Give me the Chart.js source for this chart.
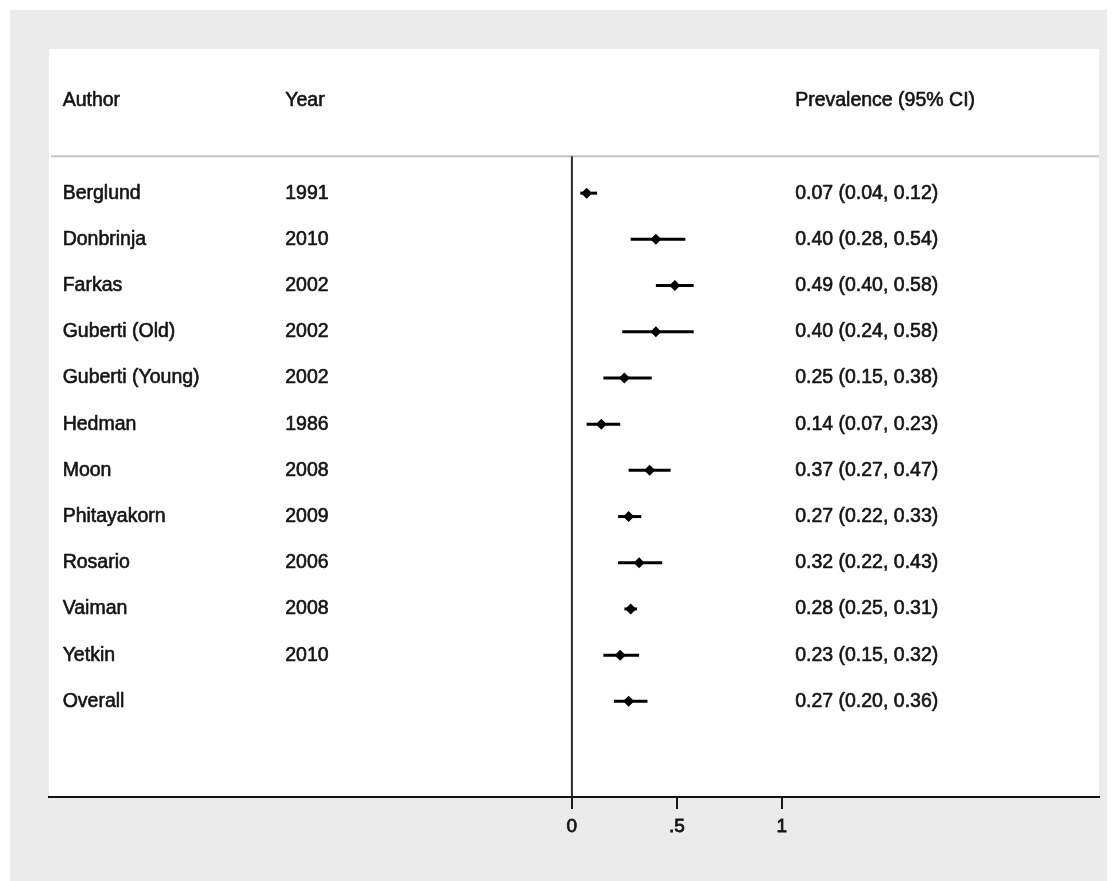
<!DOCTYPE html>
<html>
<head>
<meta charset="utf-8">
<script src="https://cdn.jsdelivr.net/npm/chart.js@4/dist/chart.umd.min.js"></script>
<style>
  html, body { margin: 0; padding: 0; background: #ffffff; }
  #wrap { position: relative; width: 1116px; height: 881px; }
</style>
</head>
<body>
<div id="wrap"><canvas id="c" width="1116" height="881"></canvas></div>
<script>
// ---- data ----
const authors = ["Berglund", "Donbrinja", "Farkas", "Guberti (Old)", "Guberti (Young)", "Hedman",
                 "Moon", "Phitayakorn", "Rosario", "Vaiman", "Yetkin", "Overall"];
const years = ["1991", "2010", "2002", "2002", "2002", "1986", "2008", "2009", "2006", "2008", "2010", ""];
const estimates = [0.07, 0.40, 0.49, 0.40, 0.25, 0.14, 0.37, 0.27, 0.32, 0.28, 0.23, 0.27];
const lower = [0.04, 0.28, 0.40, 0.24, 0.15, 0.07, 0.27, 0.22, 0.22, 0.25, 0.15, 0.20];
const upper = [0.12, 0.54, 0.58, 0.58, 0.38, 0.23, 0.47, 0.33, 0.43, 0.31, 0.32, 0.36];
const xTicks = [0, 0.5, 1];
const headers = ["Author", "Year", "Prevalence (95% CI)"];

// ---- layout (in scale units) ----
const X_MIN = -2.49, X_MAX = 2.51;
const Y_MIN = -3.12, Y_MAX = 13.07;
const HEADER_ROW = -2;
const RULE_ROW = -0.8;
const COL_AUTHOR = -2.425, COL_YEAR = -1.365, COL_PREV = 1.063;
const FONT = '19.5px "Liberation Sans", Arial, Helvetica, sans-serif';
const INK = '#141414';

// CI segments, one dataset per row
const ciDatasets = estimates.map((e, i) => ({
  type: 'line',
  data: [{x: lower[i], y: i}, {x: upper[i], y: i}],
  borderColor: '#000',
  borderWidth: 3,
  pointRadius: 0,
  fill: false,
  order: 2
}));

const pointDataset = {
  type: 'scatter',
  data: estimates.map((e, i) => ({x: e, y: i})),
  pointStyle: 'rectRot',
  pointRadius: 5.5,
  backgroundColor: '#000',
  borderColor: '#000',
  borderWidth: 0,
  order: 1
};

const decor = {
  id: 'decor',
  beforeDraw(chart) {
    const ctx = chart.ctx, a = chart.chartArea;
    ctx.save();
    ctx.fillStyle = '#ffffff';
    ctx.fillRect(0, 0, chart.width, chart.height);
    ctx.fillStyle = '#ebebeb';
    ctx.fillRect(10, 10, 1097, 871);
    ctx.fillStyle = '#ffffff';
    ctx.fillRect(a.left, a.top, a.right - a.left, a.bottom - a.top);
    ctx.restore();
  },
  afterDatasetsDraw(chart) {
    const ctx = chart.ctx, a = chart.chartArea;
    const xs = chart.scales.x, ys = chart.scales.y;
    ctx.save();
    // header rule
    const ry = ys.getPixelForValue(RULE_ROW);
    ctx.strokeStyle = '#c4c4c4';
    ctx.lineWidth = 2;
    ctx.beginPath();
    ctx.moveTo(a.left + 2, ry);
    ctx.lineTo(a.right, ry);
    ctx.stroke();
    // null line at x = 0
    const x0 = xs.getPixelForValue(0);
    ctx.strokeStyle = '#2a2a2a';
    ctx.lineWidth = 2;
    ctx.beginPath();
    ctx.moveTo(x0, ry);
    ctx.lineTo(x0, a.bottom);
    ctx.stroke();
    // text
    ctx.fillStyle = INK;
    ctx.strokeStyle = INK;
    ctx.lineWidth = 0.6;
    ctx.lineJoin = 'round';
    ctx.font = FONT;
    ctx.textAlign = 'left';
    ctx.textBaseline = 'middle';
    const put = (t, x, y) => { ctx.fillText(t, x, y); ctx.strokeText(t, x, y); };
    const hy = ys.getPixelForValue(HEADER_ROW);
    put(headers[0], xs.getPixelForValue(COL_AUTHOR), hy);
    put(headers[1], xs.getPixelForValue(COL_YEAR), hy);
    put(headers[2], xs.getPixelForValue(COL_PREV), hy);
    authors.forEach((name, i) => {
      const y = ys.getPixelForValue(i);
      put(name, xs.getPixelForValue(COL_AUTHOR), y);
      if (years[i]) put(years[i], xs.getPixelForValue(COL_YEAR), y);
      const txt = estimates[i].toFixed(2) + ' (' + lower[i].toFixed(2) + ', ' + upper[i].toFixed(2) + ')';
      put(txt, xs.getPixelForValue(COL_PREV), y);
    });
    ctx.restore();
  }
};

new Chart(document.getElementById('c'), {
  type: 'scatter',
  data: { datasets: [pointDataset, ...ciDatasets] },
  options: {
    responsive: false,
    animation: false,
    devicePixelRatio: 1,
    layout: { padding: { left: 49, top: 49, right: 17, bottom: 0 } },
    plugins: { legend: { display: false }, tooltip: { enabled: false } },
    scales: {
      x: {
        type: 'linear',
        position: 'bottom',
        min: X_MIN,
        max: X_MAX,
        afterBuildTicks(s) { s.ticks = xTicks.map(v => ({ value: v })); },
        afterFit(s) { s.height = 84; },
        grid: {
          drawOnChartArea: false,
          drawTicks: true,
          tickLength: 12,
          tickColor: '#1a1a1a',
          tickWidth: 2,
          lineWidth: 2
        },
        border: { display: true, color: '#111', width: 2 },
        ticks: {
          padding: 6,
          color: INK,
          textStrokeColor: INK,
          textStrokeWidth: 0.8,
          font: { family: '"Liberation Sans", Arial, Helvetica, sans-serif', size: 19 },
          maxRotation: 0,
          autoSkip: false,
          callback: v => String(v).replace(/^0\./, '.')
        }
      },
      y: {
        type: 'linear',
        display: false,
        reverse: true,
        min: Y_MIN,
        max: Y_MAX
      }
    }
  },
  plugins: [decor]
});
</script>
</body>
</html>
